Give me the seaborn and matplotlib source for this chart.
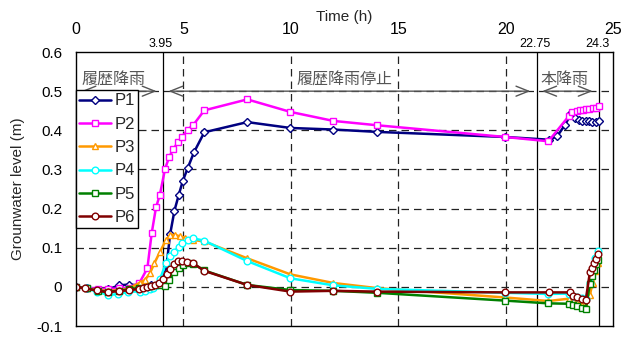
import matplotlib
matplotlib.use("Agg")
import matplotlib.pyplot as plt
import matplotlib.transforms as mtransforms
import seaborn as sns

# ---- observation data: time (h) and groundwater level (m) per gauge ----
t_p1 = [0, 0.5, 1.0, 1.5, 2.0, 2.45, 2.95, 3.5, 3.9, 4.17, 4.38, 4.58, 4.78, 4.97,
        5.2, 5.49, 5.97, 7.97, 9.98, 11.98, 14.0, 19.97, 22.02, 22.4, 22.75, 23.06,
        23.25, 23.41, 23.57, 23.72, 23.88, 24.03, 24.19, 24.34]
p1 = [0.0, -0.003, -0.008, -0.006, 0.004, 0.006, 0.004, 0.005, 0.012, 0.035, 0.135,
      0.195, 0.235, 0.271, 0.304, 0.344, 0.395, 0.421, 0.406, 0.402, 0.396, 0.383,
      0.376, 0.385, 0.413, 0.443, 0.432, 0.427, 0.425, 0.424, 0.423, 0.422, 0.421, 0.423]

t_p2 = [0, 0.5, 1.0, 1.5, 2.0, 2.45, 2.95, 3.32, 3.52, 3.72, 3.9, 4.14, 4.34, 4.53,
        4.73, 4.95, 5.2, 5.46, 5.97, 7.97, 9.98, 11.98, 14.0, 19.97, 21.99, 22.95,
        23.1, 23.3, 23.45, 23.6, 23.75, 23.9, 24.05, 24.2, 24.33]
p2 = [0.0, -0.002, -0.005, -0.005, -0.004, -0.002, 0.01, 0.048, 0.137, 0.203, 0.235,
      0.301, 0.333, 0.352, 0.369, 0.384, 0.402, 0.414, 0.451, 0.479, 0.447, 0.424,
      0.413, 0.383, 0.372, 0.437, 0.446, 0.45, 0.452, 0.453, 0.454, 0.455, 0.456,
      0.457, 0.463]

t_p3 = [0, 0.5, 1.0, 1.5, 2.0, 2.45, 2.98, 3.21, 3.44, 3.64, 3.91, 4.19, 4.38, 4.6,
        4.84, 5.07, 5.46, 5.97, 7.97, 9.98, 11.98, 14.0, 19.97, 21.99, 22.95, 23.15,
        23.32, 23.53, 23.73, 23.92, 24.05, 24.18, 24.3]
p3 = [0.0, -0.004, -0.008, -0.01, -0.008, -0.004, 0.011, 0.018, 0.035, 0.06, 0.09,
      0.12, 0.133, 0.133, 0.129, 0.126, 0.12, 0.116, 0.073, 0.032, 0.01, -0.003,
      -0.027, -0.036, -0.03, -0.034, -0.04, -0.045, -0.05, -0.02, 0.01, 0.04, 0.06]

t_p4 = [0, 0.5, 0.96, 1.47, 1.97, 2.43, 2.98, 3.2, 3.45, 3.6, 3.75, 3.91, 4.19, 4.38,
        4.58, 4.77, 4.95, 5.2, 5.46, 5.97, 7.97, 9.98, 11.98, 14.0, 19.97, 21.99,
        22.95, 23.15, 23.32, 23.53, 23.73, 23.92, 24.05, 24.18, 24.3]
p4 = [0.0, -0.004, -0.012, -0.02, -0.019, -0.012, -0.012, -0.01, -0.006, -0.002,
      0.005, 0.02, 0.062, 0.079, 0.09, 0.103, 0.112, 0.12, 0.124, 0.118, 0.066,
      0.022, 0.004, -0.005, -0.015, -0.018, -0.017, -0.022, -0.025, -0.028, -0.03,
      0.01, 0.045, 0.075, 0.092]

t_p5 = [0, 0.5, 1.0, 1.5, 2.0, 2.45, 2.95, 3.5, 3.9, 4.14, 4.34, 4.58, 4.77, 5.0,
        5.23, 5.46, 5.97, 7.97, 9.98, 11.98, 14.0, 19.97, 21.99, 22.95, 23.15, 23.32,
        23.53, 23.73, 23.92, 24.0, 24.1, 24.2, 24.3]
p5 = [0.0, -0.004, -0.01, -0.012, -0.01, -0.006, -0.002, 0.002, 0.004, 0.003, 0.018,
      0.039, 0.048, 0.056, 0.06, 0.059, 0.042, 0.005, -0.008, -0.01, -0.015, -0.035,
      -0.042, -0.043, -0.046, -0.05, -0.055, -0.057, 0.008, 0.028, 0.042, 0.058, 0.07]

t_p6 = [0, 0.42, 0.96, 1.49, 1.99, 2.45, 2.93, 3.13, 3.32, 3.5, 3.69, 3.87, 4.06,
        4.22, 4.37, 4.58, 4.76, 4.95, 5.15, 5.46, 5.97, 7.97, 9.98, 11.98, 14.0,
        19.97, 22.02, 23.0, 23.15, 23.32, 23.53, 23.73, 23.92, 24.0, 24.1, 24.22, 24.3]
p6 = [0.001, -0.004, -0.009, -0.014, -0.01, -0.009, -0.005, -0.003, -0.001, 0.002,
      0.005, 0.01, 0.02, 0.033, 0.045, 0.059, 0.065, 0.065, 0.063, 0.06, 0.041, 0.005,
      -0.012, -0.01, -0.012, -0.014, -0.014, -0.014, -0.023, -0.027, -0.031, -0.033,
      0.037, 0.048, 0.06, 0.071, 0.084]

series_names = ["P1", "P2", "P3", "P4", "P5", "P6"]
series_times = [t_p1, t_p2, t_p3, t_p4, t_p5, t_p6]
series_values = [p1, p2, p3, p4, p5, p6]
series_colors = ["#000080", "#FF00FF", "#FF9900", "#00FFFF", "#008000", "#800000"]
series_markers = ["D", "s", "^", "o", "s", "o"]
series_msize = [3.8, 4.8, 5.0, 4.8, 4.6, 4.8]

# rainfall phases
phase_labels = ["履歴降雨", "履歴降雨停止", "本降雨"]
phase_bounds = [0.0, 4.05, 21.45, 24.35]
event_labels = ["3.95", "22.75", "24.3"]

x_ticks = [0, 5, 10, 15, 20, 25]
y_ticks = [-0.1, 0, 0.1, 0.2, 0.3, 0.4, 0.5, 0.6]
y_tick_labels = ["-0.1", "0", "0.1", "0.2", "0.3", "0.4", "0.5", "0.6"]

sns.set_theme(style="white")
plt.rcParams["font.family"] = ["Liberation Sans", "Noto Sans CJK JP"]

fig, ax = plt.subplots(figsize=(6.34, 3.4), dpi=100)
fig.subplots_adjust(left=0.12, right=0.967, top=0.847, bottom=0.041)

# dashed reference grid
for yv in y_ticks[1:-1]:
    ax.axhline(yv, color="#222222", lw=0.9, ls=(0, (6, 4)), zorder=0.5)
for xv in x_ticks[1:-1]:
    ax.axvline(xv, color="#222222", lw=0.9, ls=(0, (6, 4)), zorder=0.5)
# phase boundaries
for xv in phase_bounds[1:]:
    ax.axvline(xv, color="black", lw=0.9, zorder=0.6)

for name, t, v, c, m, ms in zip(series_names, series_times, series_values,
                                 series_colors, series_markers, series_msize):
    sns.lineplot(x=t, y=v, ax=ax, color=c, marker=m, markersize=ms,
                 markerfacecolor="white", markeredgecolor=c, markeredgewidth=1.0,
                 linewidth=1.8, label=name, estimator=None, sort=False)

# phase arrows and titles
gap = 0.25
for lab, a, b in zip(phase_labels, phase_bounds[:-1], phase_bounds[1:]):
    ax.annotate("", xy=(a + gap, 0.5), xytext=(b - gap - 0.05, 0.5),
                arrowprops=dict(arrowstyle="<->,head_length=0.75,head_width=0.3",
                                color="#555555", lw=1.0, shrinkA=0, shrinkB=0),
                zorder=3)
text_x = {"履歴降雨": 1.75, "履歴降雨停止": 12.5, "本降雨": 22.75}
for lab in phase_labels:
    ax.text(text_x[lab], 0.529, lab, ha="center", va="center", fontsize=11.5,
            color="#555555", family=["Noto Sans CJK JP"], zorder=3)

ax.set_xlim(0, 25)
ax.set_ylim(-0.1, 0.6)
ax.xaxis.tick_top()
ax.xaxis.set_label_position("top")
ax.set_xticks(x_ticks)
ax.set_xticklabels([str(v) for v in x_ticks])
ax.set_yticks(y_ticks)
ax.set_yticklabels(y_tick_labels)
ax.tick_params(axis="x", length=0, pad=10.5, labelsize=11.5, colors="black")
ax.tick_params(axis="y", length=0, pad=10, labelsize=11, colors="black")
ax.set_xlabel("Time (h)", fontsize=11, labelpad=1)
ax.set_ylabel("Grounwater level (m)", fontsize=11, labelpad=8)

# event time labels under the top axis numbers
blend = mtransforms.blended_transform_factory(ax.transData, ax.transAxes)
for lab, xv in zip(event_labels, phase_bounds[1:]):
    ax.text(xv - 0.1, 1.006, lab, transform=blend, ha="center", va="bottom",
            fontsize=9, color="black")

for sp in ax.spines.values():
    sp.set_color("black")
    sp.set_linewidth(1.0)

leg = ax.legend(loc="upper left", bbox_to_anchor=(0.0, 0.861), borderaxespad=0,
                fontsize=12, frameon=True, fancybox=False, framealpha=1,
                edgecolor="black", handlelength=1.9, handletextpad=0.2,
                labelspacing=0.5, borderpad=0.2)
leg.get_frame().set_linewidth(1.0)
leg.set_zorder(5)

fig.savefig("out.png", dpi=100)
